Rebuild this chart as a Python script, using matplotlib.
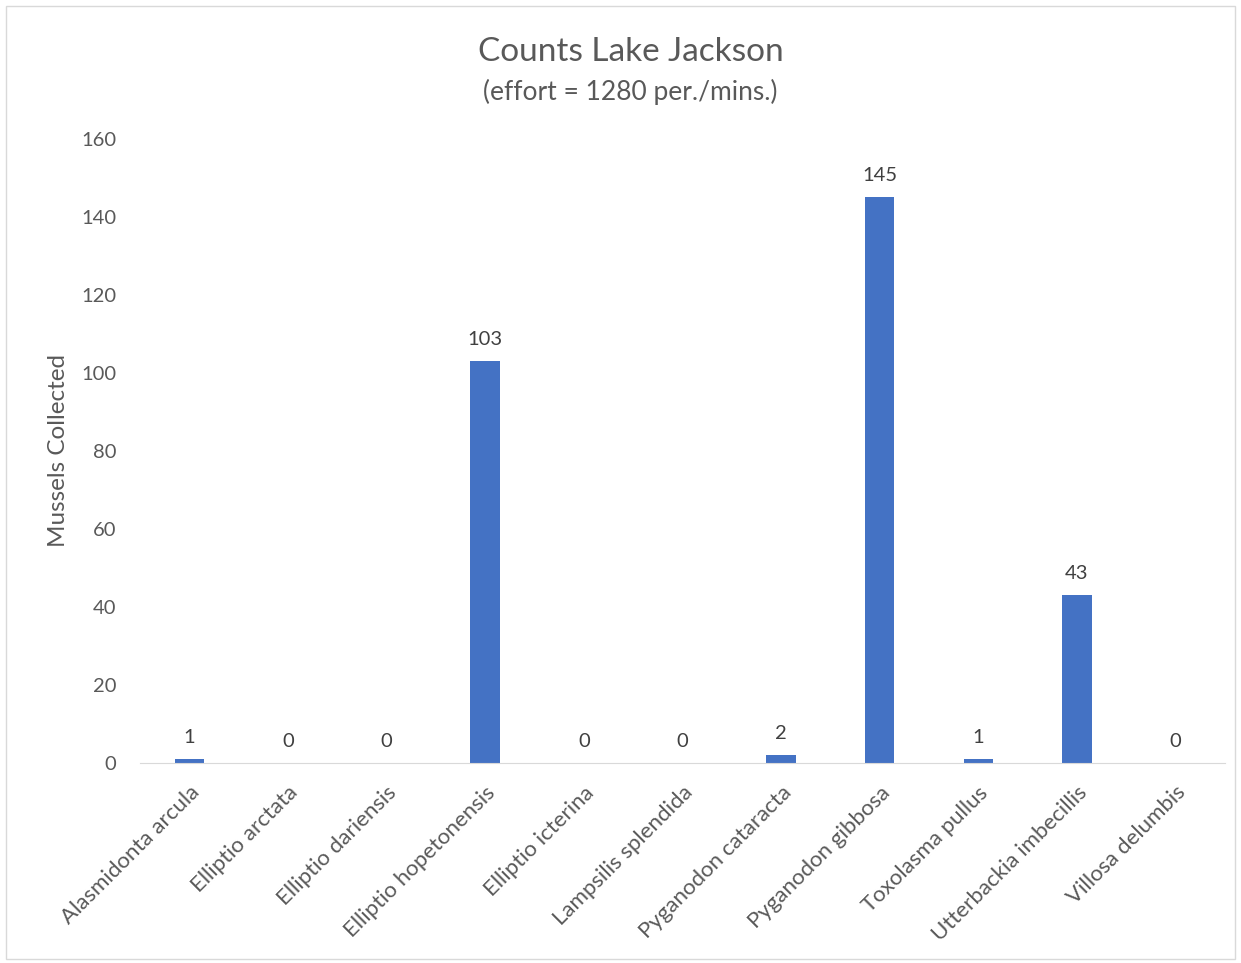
import matplotlib
matplotlib.use("Agg")
import matplotlib.pyplot as plt
import matplotlib.transforms as mtrans
from matplotlib.patches import Rectangle

species = ["Alasmidonta arcula", "Elliptio arctata", "Elliptio dariensis",
           "Elliptio hopetonensis", "Elliptio icterina", "Lampsilis splendida",
           "Pyganodon cataracta", "Pyganodon gibbosa", "Toxolasma pullus",
           "Utterbackia imbecillis", "Villosa delumbis"]
counts = [1, 0, 0, 103, 0, 0, 2, 145, 1, 43, 0]
yticks = [0, 20, 40, 60, 80, 100, 120, 140, 160]

plt.rcParams['font.family'] = ['Lato', 'DejaVu Sans']
gray = '#595959'

fig = plt.figure(figsize=(12.41, 9.63), dpi=100)
ax = fig.add_axes([0.1128, 0.2077, 0.8742, 0.648])
x = list(range(len(species)))
ax.bar(x, counts, width=0.3, color='#4472C4', zorder=2)
for xi, c in zip(x, counts):
    ax.annotate(str(c), (xi, c), xytext=(0, 9.5), textcoords='offset points',
                ha='center', va='bottom', fontsize=14.5, color='#404040')
ax.set_xlim(-0.5, len(species) - 0.5)
ax.set_ylim(0, 160)
ax.set_yticks(yticks)
ax.set_yticklabels([str(t) for t in yticks], fontsize=14.5, color=gray)
ax.set_xticks(x)
ax.set_xticklabels(species, rotation=45, ha='right', rotation_mode='anchor',
                   fontsize=16, color=gray)
shift = mtrans.ScaledTranslation(-5 / 100, 0, fig.dpi_scale_trans)
for lbl in ax.get_xticklabels():
    lbl.set_transform(lbl.get_transform() + shift)
ax.tick_params(axis='both', length=0)
ax.tick_params(axis='y', pad=17)
ax.tick_params(axis='x', pad=14)
for s in ['top', 'right', 'left']:
    ax.spines[s].set_visible(False)
ax.spines['bottom'].set_color('#D9D9D9')
ax.set_ylabel('Mussels Collected', fontsize=17.5, color=gray, labelpad=9)

fig.text(0.508, 0.946, 'Counts Lake Jackson', ha='center', va='center',
         fontsize=24, color=gray)
fig.text(0.508, 0.905, '(effort = 1280 per./mins.)', ha='center', va='center',
         fontsize=19, color=gray)
fig.patches.append(Rectangle((0.005, 0.004), 0.99, 0.99, transform=fig.transFigure,
                             fill=False, edgecolor='#D9D9D9', linewidth=1))
fig.savefig('out.png', dpi=100, facecolor='white')
